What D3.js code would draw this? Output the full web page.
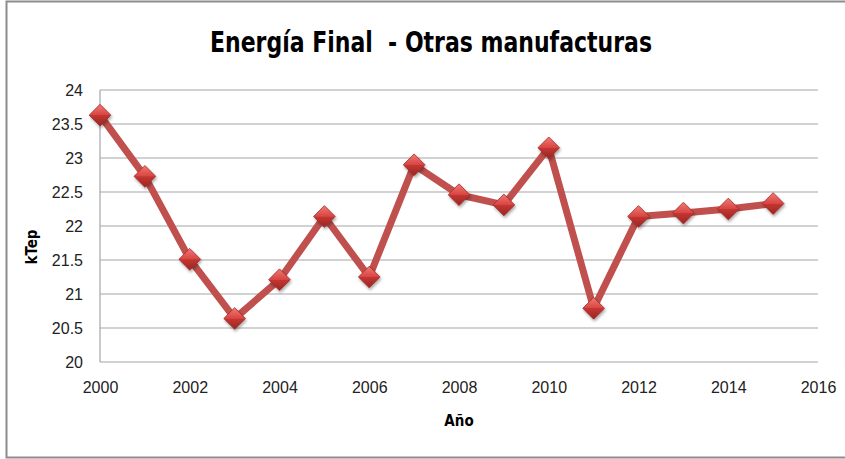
<!DOCTYPE html>
<html>
<head>
<meta charset="utf-8">
<script src="https://cdn.jsdelivr.net/npm/d3@7"></script>
<style>
  body { margin: 0; background: #fff; }
  svg { display: block; font-family: "DejaVu Sans", sans-serif; font-stretch: condensed; }
  .grid line { stroke: #a6a6a6; stroke-width: 1.2; }
  .tick text { fill: #222; }
  text { white-space: pre; }
</style>
</head>
<body>
<svg id="chart" width="845" height="459"></svg>
<script>
// data
var years = [2000, 2001, 2002, 2003, 2004, 2005, 2006, 2007, 2008, 2009, 2010, 2011, 2012, 2013, 2014, 2015];
var ktep = [23.63, 22.73, 21.51, 20.64, 21.21, 22.14, 21.25, 22.90, 22.46, 22.31, 23.15, 20.79, 22.14, 22.19, 22.25, 22.33];
var xTicks = [2000, 2002, 2004, 2006, 2008, 2010, 2012, 2014, 2016];
var yTicks = [20, 20.5, 21, 21.5, 22, 22.5, 23, 23.5, 24];

var svg = d3.select("#chart");
var margin = { left: 100, right: 27, top: 90, bottom: 97 };
var width = 845, height = 459;

var x = d3.scaleLinear().domain([2000, 2016]).range([margin.left, width - margin.right]);
var y = d3.scaleLinear().domain([20, 24]).range([height - margin.bottom, margin.top]);

// outer frame
svg.append("rect")
    .attr("x", 6.5).attr("y", 1.5)
    .attr("width", 850).attr("height", 456)
    .attr("fill", "none")
    .attr("stroke", "#8c8c8c")
    .attr("stroke-width", 2);

var defs = svg.append("defs");
var grad = defs.append("linearGradient")
    .attr("id", "dia").attr("x1", 0).attr("y1", 0).attr("x2", 0).attr("y2", 1);
grad.append("stop").attr("offset", "0%").attr("stop-color", "#f07a76");
grad.append("stop").attr("offset", "50%").attr("stop-color", "#d94440");
grad.append("stop").attr("offset", "51%").attr("stop-color", "#c23632");
grad.append("stop").attr("offset", "100%").attr("stop-color", "#9c2522");

var shadow = defs.append("filter").attr("id", "shadow")
    .attr("x", "-50%").attr("y", "-50%").attr("width", "200%").attr("height", "200%");
shadow.append("feDropShadow")
    .attr("dx", 1).attr("dy", 2).attr("stdDeviation", 1.5)
    .attr("flood-color", "#000").attr("flood-opacity", 0.35);

// horizontal gridlines
svg.append("g").attr("class", "grid")
    .selectAll("line")
    .data(yTicks)
    .join("line")
    .attr("x1", x(2000)).attr("x2", x(2016))
    .attr("y1", function(d) { return y(d); })
    .attr("y2", function(d) { return y(d); });

// left axis line
svg.append("line")
    .attr("x1", x(2000)).attr("x2", x(2000))
    .attr("y1", y(20)).attr("y2", y(24))
    .attr("stroke", "#a6a6a6").attr("stroke-width", 1.2);

var yAxis = svg.append("g")
    .attr("transform", "translate(" + (x(2000) - 4) + ",0)")
    .call(d3.axisLeft(y).tickValues(yTicks).tickSize(0).tickPadding(13).tickFormat(d3.format("")));
yAxis.select(".domain").remove();
yAxis.selectAll("text").style("font-size", "16px");

var xAxis = svg.append("g")
    .attr("transform", "translate(0," + (y(20) + 8) + ")")
    .call(d3.axisBottom(x).tickValues(xTicks).tickSize(0).tickPadding(12).tickFormat(d3.format("d")));
xAxis.select(".domain").remove();
xAxis.selectAll("text").style("font-size", "16px");

// line
var line = d3.line()
    .x(function(d, i) { return x(years[i]); })
    .y(function(d) { return y(d); });

svg.append("path")
    .datum(ktep)
    .attr("d", line)
    .attr("fill", "none")
    .attr("stroke", "#c0504d")
    .attr("stroke-width", 7)
    .attr("stroke-linejoin", "round");

// diamond markers
var dia = d3.symbol().type(d3.symbolDiamond2).size(300);
svg.append("g")
    .selectAll("path")
    .data(ktep)
    .join("path")
    .attr("d", dia)
    .attr("transform", function(d, i) { return "translate(" + x(years[i]) + "," + y(d) + ")"; })
    .attr("fill", "url(#dia)")
    .attr("stroke", "#a32b28")
    .attr("stroke-width", 0.8)
    .attr("filter", "url(#shadow)");

// titles
svg.append("text")
    .attr("x", 431).attr("y", 52)
    .attr("text-anchor", "middle")
    .attr("textLength", 442)
    .attr("lengthAdjust", "spacingAndGlyphs")
    .style("font-size", "29px")
    .style("font-weight", "bold")
    .text("Energía Final  - Otras manufacturas");

svg.append("text")
    .attr("x", 459).attr("y", 426)
    .attr("text-anchor", "middle")
    .style("font-size", "15px")
    .style("font-weight", "bold")
    .text("Año");

svg.append("text")
    .attr("transform", "translate(37,247) rotate(-90)")
    .attr("text-anchor", "middle")
    .style("font-size", "15px")
    .style("font-weight", "bold")
    .text("kTep");
</script>
</body>
</html>
